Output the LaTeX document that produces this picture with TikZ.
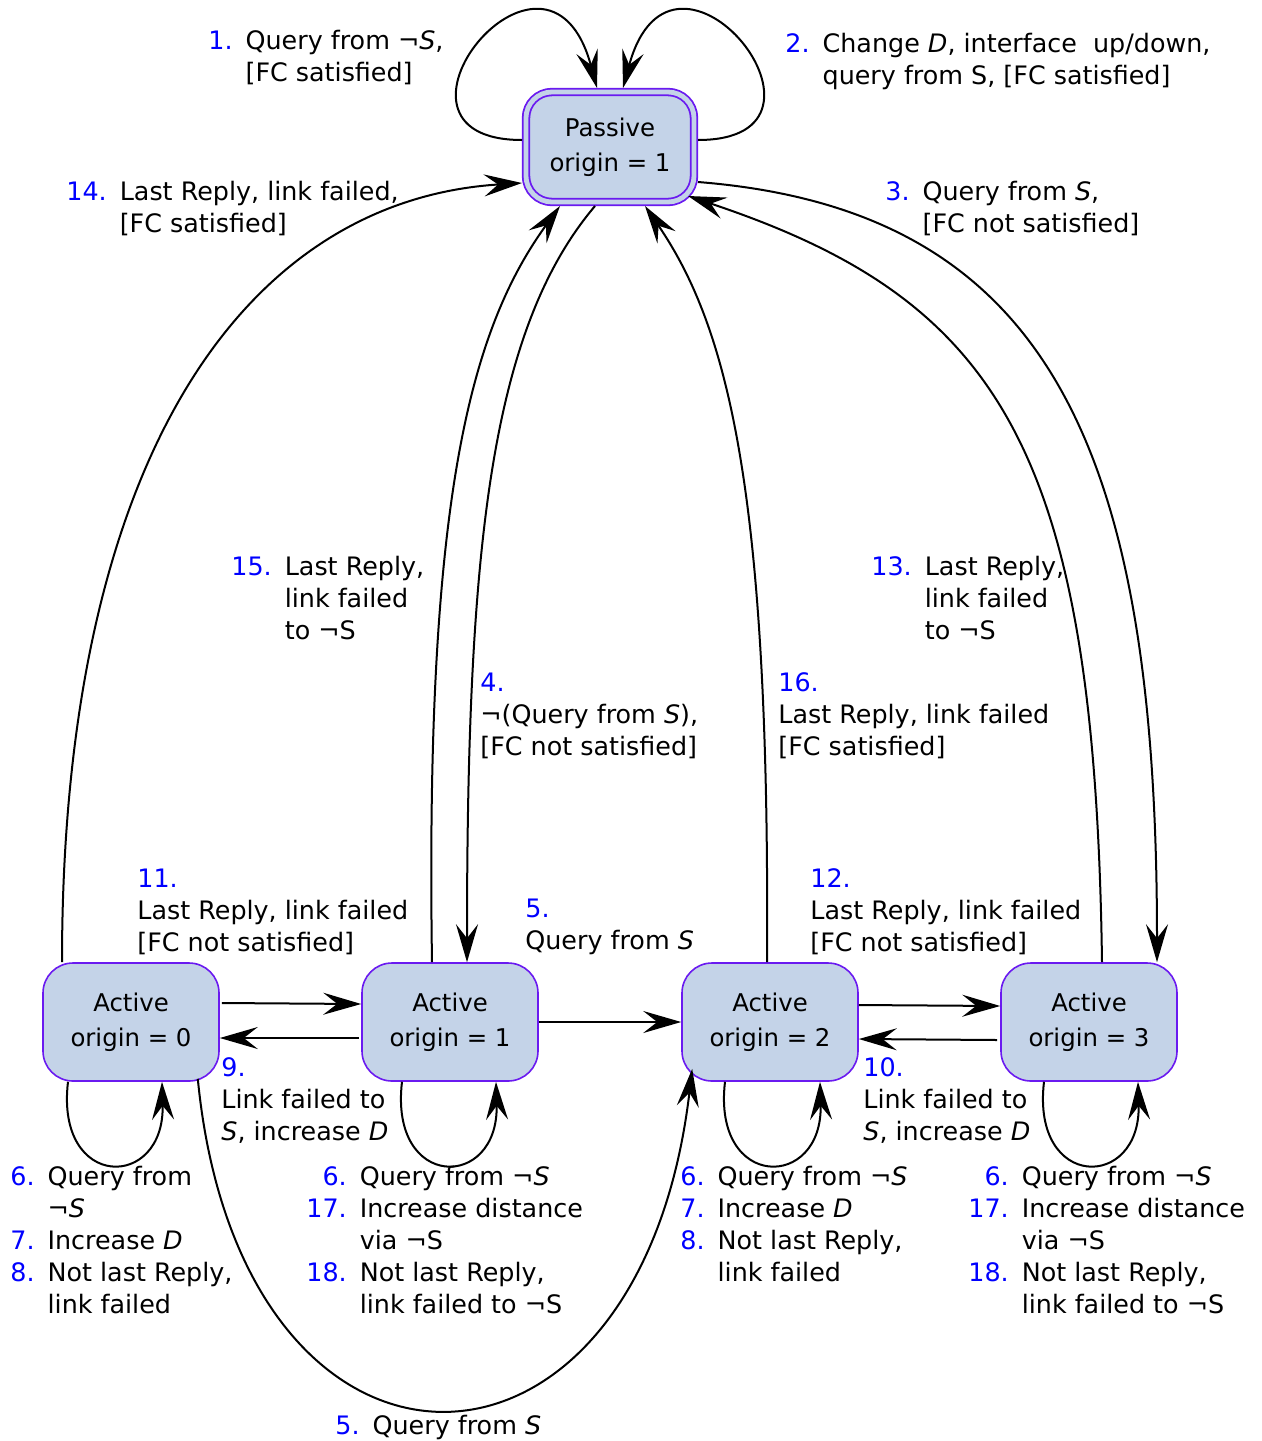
\documentclass[tikz,border=0pt]{standalone}
\usepackage{fontspec}
\setmainfont{DejaVu Sans}
\usetikzlibrary{arrows.meta,calc}
\definecolor{statefill}{HTML}{C4D3E8}
\definecolor{stateline}{HTML}{6A1AF0}
\newcommand{\lnum}[1]{\textcolor{blue}{#1}}
\newcommand{\steps}[1]{\begin{tabular}[t]{@{}r@{\hspace{6.5pt}}l@{}}#1\end{tabular}}
\newcommand{\stacked}[1]{\begin{tabular}[t]{@{}l@{}}#1\end{tabular}}
\tikzset{
  state/.style={draw=stateline,fill=statefill,line width=0.8pt,rounded corners=15pt,minimum width=88pt,minimum height=59pt,align=center,inner sep=0pt,font=\fontsize{12.2}{16}\selectfont},
  passive/.style={state,double=statefill,double distance=2.4pt,line width=0.9pt,minimum width=84pt,minimum height=55pt,rounded corners=13pt,outer sep=2pt},
  trans/.style={-{Stealth[length=19pt,width=11pt,inset=7pt]},line width=1pt},
  lbl/.style={anchor=base west,inner sep=0pt},
}

\begin{document}
\begin{tikzpicture}[x=0.5pt,y=-0.5pt,font=\fontsize{12.7}{16}\selectfont]
  \useasboundingbox (0,0) rectangle (1262,1441);
  % states
  \node[passive] (p) at (610,147) {Passive\\[1.5pt]origin = 1};
  \node[state] (a0) at (131,1022) {Active\\[1.5pt]origin = 0};
  \node[state] (a1) at (450,1022) {Active\\[1.5pt]origin = 1};
  \node[state] (a2) at (770,1022) {Active\\[1.5pt]origin = 2};
  \node[state] (a3) at (1089,1022) {Active\\[1.5pt]origin = 3};
  % loops on passive
  \draw[trans] ($(p.west)+(0,-7)$) .. controls +(-165,0) and +(-50,-185) .. ($(p.north)+(-13,0)$);
  \draw[trans] ($(p.east)+(0,-7)$) .. controls +(165,0) and +(50,-185) .. ($(p.north)+(13,0)$);
  % passive <-> active
  \draw[trans] ($(a0.north)+(-69,0)$) .. controls +(0,-513) and +(-272,17) .. ($(p.west)+(0,36)$);
  \draw[trans] ($(a1.north)+(-18,0)$) .. controls +(-7,-463) and +(-90,124) .. ($(p.south)+(-50,0)$);
  \draw[trans] ($(p.south)+(-15,0)$) .. controls +(-105,124) and +(0,-413) .. ($(a1.north)+(17,0)$);
  \draw[trans] ($(a2.north)+(-3,0)$) .. controls +(3,-463) and +(85,124) .. ($(p.south)+(35,0)$);
  \draw[trans] ($(a3.north)+(13,0)$) .. controls +(-7,-513) and +(312,104) .. ($(p.south east)+(-10,-10)$);
  \draw[trans] ($(p.east)+(0,35)$) .. controls +(352,28) and +(0,-513) .. ($(a3.north)+(68,0)$);
  % between active states
  \draw[trans] ($(a0.east)+(2,-19)$) -- ($(a1.west)+(0,-18)$);
  \draw[trans] ($(a1.west)+(-2,16)$) -- ($(a0.east)+(0,16)$);
  \draw[trans] (a1.east) -- (a2.west);
  \draw[trans] ($(a2.east)+(0,-17)$) -- ($(a3.west)+(0,-16)$);
  \draw[trans] ($(a3.west)+(-3,18)$) -- ($(a2.east)+(0,17)$);
  \draw[trans] ($(a0.south east)+(-22,-3)$) .. controls +(43,442) and +(-53,452) .. ($(a2.south west)+(11,-13)$);
  % loops on active
  \draw[trans] ($(a0.south)+(-63,0)$) .. controls +(-13,109) and +(3,109) .. ($(a0.south)+(31,0)$);
  \draw[trans] ($(a1.south)+(-48,0)$) .. controls +(-13,109) and +(3,109) .. ($(a1.south)+(46,0)$);
  \draw[trans] ($(a2.south)+(-45,0)$) .. controls +(-13,109) and +(3,109) .. ($(a2.south)+(50,0)$);
  \draw[trans] ($(a3.south)+(-45,0)$) .. controls +(-13,109) and +(3,109) .. ($(a3.south)+(49,0)$);
  % labels
  \node[lbl] (l1) at (208,49) {\steps{\lnum{1.} & Query from ¬\textit{S},\\ & {[}FC satisfied{]}}};
  \node[lbl] (l2) at (785,52) {\steps{\lnum{2.} & Change \textit{D}, interface\ \ up/down,\\ & query from S, {[}FC satisfied{]}}};
  \node[lbl] (l3) at (885,200) {\steps{\lnum{3.} & Query from \textit{S},\\ & {[}FC not satisfied{]}}};
  \node[lbl] (l14) at (66,200) {\steps{\lnum{14.} & Last Reply, link failed,\\ & {[}FC satisfied{]}}};
  \node[lbl] (l15) at (231,575) {\steps{\lnum{15.} & Last Reply,\\ & link failed\\ & to ¬S}};
  \node[lbl] (l13) at (871,575) {\steps{\lnum{13.} & Last Reply,\\ & link failed\\ & to ¬S}};
  \node[lbl] (l4) at (480,691) {\stacked{\lnum{4.}\\ ¬(Query from \textit{S}),\\ {[}FC not satisfied{]}}};
  \node[lbl] (l16) at (778,691) {\stacked{\lnum{16.}\\ Last Reply, link failed\\ {[}FC satisfied{]}}};
  \node[lbl] (l11) at (137,887) {\stacked{\lnum{11.}\\ Last Reply, link failed\\ {[}FC not satisfied{]}}};
  \node[lbl] (l12) at (810,887) {\stacked{\lnum{12.}\\ Last Reply, link failed\\ {[}FC not satisfied{]}}};
  \node[lbl] (l5a) at (525,917) {\stacked{\lnum{5.}\\ Query from \textit{S}}};
  \node[lbl] (l9) at (221,1076) {\stacked{\lnum{9.}\\ Link failed to\\ \textit{S}, increase \textit{D}}};
  \node[lbl] (l10) at (863,1076) {\stacked{\lnum{10.}\\ Link failed to\\ \textit{S}, increase \textit{D}}};
  \node[lbl] (l0) at (10,1185) {\steps{\lnum{6.} & Query from\\ & ¬\textit{S}\\ \lnum{7.} & Increase \textit{D}\\ \lnum{8.} & Not last Reply,\\ & link failed}};
  \node[lbl] (la1) at (306,1185) {\steps{\lnum{6.} & Query from ¬\textit{S}\\ \lnum{17.} & Increase distance\\ & via ¬S\\ \lnum{18.} & Not last Reply,\\ & link failed to ¬S}};
  \node[lbl] (la2) at (680,1185) {\steps{\lnum{6.} & Query from ¬\textit{S}\\ \lnum{7.} & Increase \textit{D}\\ \lnum{8.} & Not last Reply,\\ & link failed}};
  \node[lbl] (la3) at (968,1185) {\steps{\lnum{6.} & Query from ¬\textit{S}\\ \lnum{17.} & Increase distance\\ & via ¬S\\ \lnum{18.} & Not last Reply,\\ & link failed to ¬S}};
  \node[lbl] (l5b) at (335,1434) {\steps{\lnum{5.} & Query from \textit{S}}};
\end{tikzpicture}
\end{document}
